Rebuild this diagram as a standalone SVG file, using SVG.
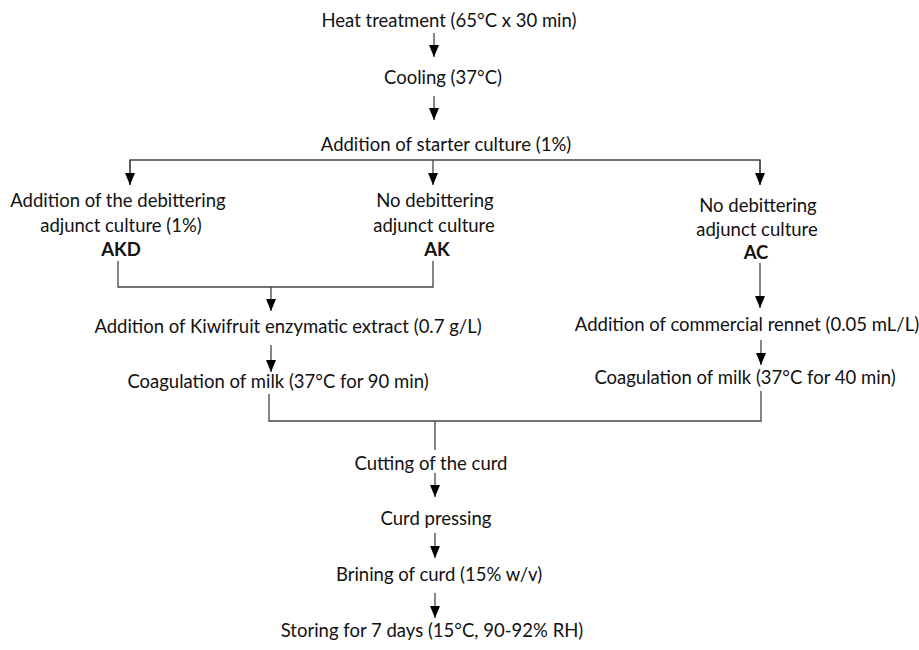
<svg xmlns="http://www.w3.org/2000/svg" width="919" height="650" viewBox="0 0 919 650">
<style>
text{font-family:Lato,"Liberation Sans",sans-serif;font-size:18.5px;fill:#111;text-anchor:middle}
.b{font-weight:bold}
.ln{stroke:#444;stroke-width:1.3;fill:none}
.ar{stroke:#444;stroke-width:1.3;fill:none;marker-end:url(#ah)}
</style>
<defs>
<marker id="ah" markerUnits="userSpaceOnUse" markerWidth="12" markerHeight="12" viewBox="0 0 12 10" refX="12" refY="5" orient="auto">
<path d="M0,0 L12,5 L0,10 z" fill="#000"/>
</marker>
</defs>
<rect width="919" height="650" fill="#fff"/>
<g id="connectors">
<line class="ar" x1="434" y1="33" x2="434" y2="57"/>
<line class="ar" x1="434" y1="96" x2="434" y2="120"/>
<polyline class="ln" points="130,185 130,160 760,160 760,185"/>
<line class="ar" x1="130" y1="160" x2="130" y2="185"/>
<line class="ar" x1="433" y1="160" x2="433" y2="185"/>
<line class="ar" x1="760" y1="160" x2="760" y2="185"/>
<polyline class="ln" points="118,261 118,287 433,287 433,261"/>
<line class="ar" x1="271" y1="287" x2="271" y2="311"/>
<line class="ar" x1="760" y1="263" x2="760" y2="308"/>
<line class="ar" x1="271" y1="345" x2="271" y2="372"/>
<line class="ar" x1="761" y1="340" x2="761" y2="365"/>
<polyline class="ln" points="269,394 269,421 761,421 761,391"/>
<line class="ln" x1="435" y1="421" x2="435" y2="450"/>
<line class="ar" x1="435" y1="473" x2="435" y2="497"/>
<line class="ar" x1="435" y1="533" x2="435" y2="558"/>
<line class="ar" x1="435" y1="593" x2="435" y2="618"/>
</g>
<g id="heat"><text x="449" y="27">Heat treatment (65°C x 30 min)</text></g>
<g id="cooling"><text x="443" y="84">Cooling (37°C)</text></g>
<g id="starter"><text x="446" y="151">Addition of starter culture (1%)</text></g>
<g id="akd">
<text x="118" y="207">Addition of the debittering</text>
<text x="121" y="232">adjunct culture (1%)</text>
<text class="b" x="121" y="256">AKD</text>
</g>
<g id="ak">
<text x="435" y="207">No debittering</text>
<text x="434" y="232">adjunct culture</text>
<text class="b" x="437" y="256">AK</text>
</g>
<g id="ac">
<text x="758" y="212">No debittering</text>
<text x="757" y="236">adjunct culture</text>
<text class="b" x="756" y="259">AC</text>
</g>
<g id="kiwi"><text x="288" y="333">Addition of Kiwifruit enzymatic extract (0.7 g/L)</text></g>
<g id="coag90"><text x="278" y="388">Coagulation of milk (37°C for 90 min)</text></g>
<g id="rennet"><text x="747" y="331">Addition of commercial rennet (0.05 mL/L)</text></g>
<g id="coag40"><text x="745" y="384">Coagulation of milk (37°C for 40 min)</text></g>
<g id="cutting"><text x="431" y="470">Cutting of the curd</text></g>
<g id="pressing"><text x="436" y="525">Curd pressing</text></g>
<g id="brining"><text x="439" y="581">Brining of curd (15% w/v)</text></g>
<g id="storing"><text x="432" y="637">Storing for 7 days (15°C, 90-92% RH)</text></g>
</svg>
